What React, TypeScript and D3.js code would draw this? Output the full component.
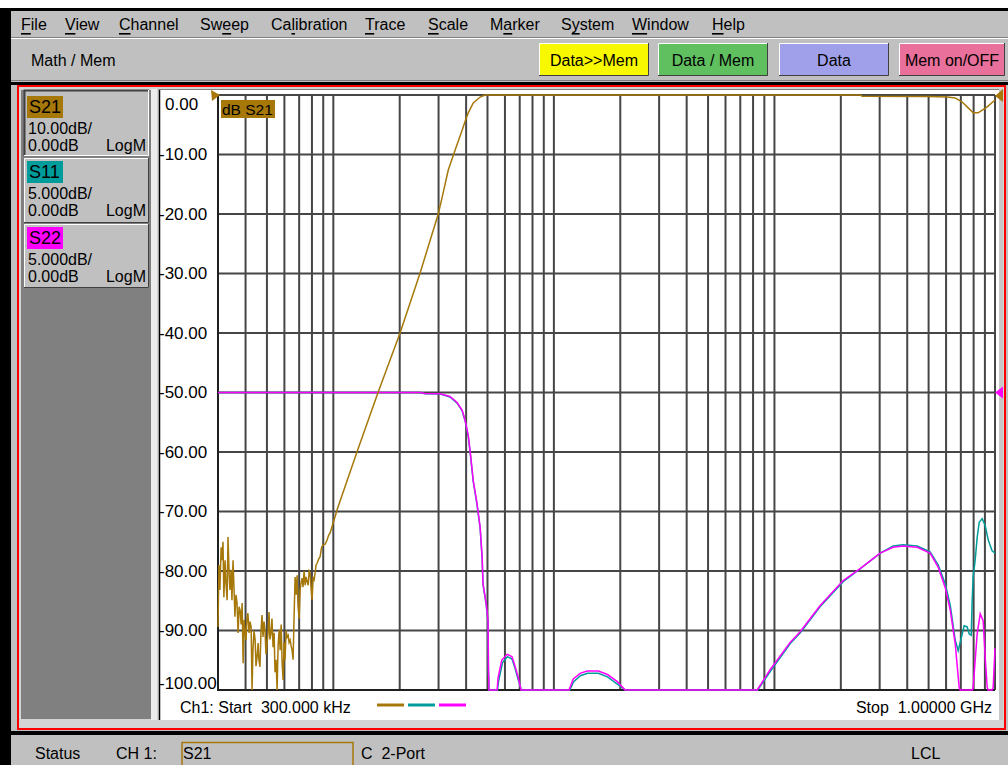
import React from 'react';
import * as d3 from 'd3';

// ---- data (frequency in MHz, values in dB) ----
const s21Freq = [
  0.300, 0.303, 0.306, 0.310, 0.313, 0.316, 0.319, 0.323, 0.326, 0.330, 0.333, 0.337, 0.340, 0.344,
  0.347, 0.351, 0.355, 0.358, 0.362, 0.366, 0.370, 0.374, 0.378, 0.382, 0.386, 0.390, 0.394, 0.398,
  0.402, 0.406, 0.410, 0.415, 0.419, 0.424, 0.428, 0.432, 0.437, 0.442, 0.446, 0.451, 0.456, 0.460,
  0.465, 0.470, 0.475, 0.480, 0.485, 0.490, 0.495, 0.501, 0.506, 0.511, 0.516, 0.522, 0.527, 0.533,
  0.539, 0.544, 0.550, 0.556, 0.562, 0.568, 0.574, 0.580, 0.586, 0.592, 0.598, 0.604, 0.611, 0.617,
  0.624, 0.630, 0.637, 0.643, 0.650, 0.657, 0.664, 0.671, 0.678, 0.685, 0.692, 0.700, 0.707, 0.714,
  0.722, 0.729, 0.737, 0.745, 0.753, 0.761, 0.769, 0.777, 0.785, 0.793, 0.801, 0.810, 0.818, 0.827,
  0.835, 0.844, 0.858, 0.871, 0.885, 0.899, 0.918, 0.937, 0.952, 0.967, 0.982, 0.998, 1.020, 1.040,
  1.28, 1.595, 2.007, 2.47, 2.99, 3.11, 3.32, 3.57, 3.84, 4.00, 4.09, 4.31, 4.63, 4.87,
  245, 250, 500, 607, 660, 710, 748, 796, 839, 922, 1000,
];
const s21Db = [
  -89.4, -79.0, -83.2, -76.0, -78.2, -75.1, -84.4, -78.2, -82.0, -84.9, -74.3, -80.5, -83.2, -79.8,
  -84.9, -78.2, -83.5, -87.7, -84.0, -85.4, -90.4, -86.0, -86.6, -89.0, -85.4, -95.5, -88.2, -90.5,
  -91.6, -88.0, -87.1, -90.4, -88.5, -89.4, -100, -93.3, -90.0, -91.6, -96.0, -94.5, -92.1, -95.0,
  -96.1, -90.0, -87.4, -91.1, -88.5, -89.9, -94.0, -92.1, -90.4, -86.9, -91.5, -90.4, -88.0, -92.8,
  -90.4, -97.0, -94.9, -100, -92.5, -89.9, -93.3, -89.0, -95.5, -98.3, -92.0, -94.9, -90.0, -91.1,
  -90.8, -92.0, -91.6, -92.5, -93.3, -94.9, -87.5, -81.0, -84.0, -80.7, -86.0, -88.0, -83.2, -82.0,
  -81.2, -82.7, -80.0, -82.4, -81.0, -81.8, -82.4, -80.0, -80.3, -83.0, -84.9, -81.2, -81.5, -80.3,
  -79.0, -78.7, -78.0, -77.6, -76.0, -75.6, -75.5, -74.8, -74.0, -73.6, -72.8, -71.9, -70.8, -69.7,
  -60, -50, -40, -30, -20, -17.3, -12.6, -9.2, -5.9, -3.9, -3.0, -1.34, -0.34, 0,
  0, -0.2, -0.25, -0.34, -0.5, -1.18, -2.0, -3.0, -3.0, -2.0, -0.84,
];

const s11Freq = [
  0.3, 2.47, 2.6, 3.05, 3.38, 3.64, 3.84, 3.96, 4.09, 4.17, 4.31, 4.48, 4.63, 4.73, 4.77, 4.93, 5.03,
  5.05, 5.08, 5.55, 5.62, 5.85, 6.16, 6.46, 6.67, 6.88, 7.12, 11.8, 12.3, 13.2, 14.2, 15.9, 17.5, 19.4,
  21.1, 84, 96, 118, 131, 161, 205, 245, 302, 345, 383, 444, 508, 553, 595, 627, 660, 681, 710, 725,
  748, 764, 780, 788, 796, 813, 830, 848, 875, 903, 932, 970, 1000,
];
const s11Db = [
  0, 0, -0.1, -0.12, -0.38, -0.9, -1.55, -2.4, -3.7, -5.0, -7.5, -9.4, -11.4, -14.0, -16.1, -17.8, -19.3,
  -23.3, -28, -28, -24.2, -22.7, -22.2, -22.4, -23.2, -24.1, -26, -26, -24.3, -23.8, -23.6, -23.6, -23.9, -24.5,
  -26, -26, -23.4, -21.1, -20.2, -18.0, -15.9, -14.8, -13.5, -12.9, -12.8, -12.9, -13.4, -14.5, -16.1, -17.9, -20.8, -21.7, -20.3, -19.6,
  -19.7, -20.3, -20.4, -17.5, -15.5, -14.1, -12.2, -10.9, -10.6, -11.2, -12.4, -13.3, -13.5,
];

const s22Freq = [
  0.3, 2.47, 2.6, 3.05, 3.38, 3.64, 3.84, 3.96, 4.09, 4.17, 4.31, 4.48, 4.63, 4.73, 4.77, 4.93, 5.03,
  5.05, 5.08, 5.53, 5.58, 5.80, 6.14, 6.46, 6.67, 6.88, 7.10, 11.72, 12.22, 13.15, 14.15, 15.9, 17.5, 19.4,
  21.04, 83.5, 95.6, 117.8, 130.8, 161.2, 205, 244.7, 301.6, 345, 383, 444, 508, 553, 595, 627, 660, 688,
  695, 790, 796, 830, 857, 884, 903, 922, 932, 970, 981, 1000,
];
const s22Db = [
  0, 0, -0.08, -0.1, -0.34, -0.84, -1.5, -2.35, -3.6, -4.9, -7.4, -9.3, -11.3, -13.9, -16.05, -17.7, -19.2,
  -23.1, -28, -28, -24.0, -22.5, -22.0, -22.2, -23.0, -23.9, -26, -26, -24.1, -23.6, -23.4, -23.4, -23.7, -24.3,
  -26, -26, -23.3, -21.0, -20.1, -17.9, -15.8, -14.8, -13.5, -13.0, -12.9, -13.0, -13.5, -14.7, -16.4, -18.3, -21.1, -24.8,
  -27, -27, -24.8, -20.3, -18.6, -19.2, -22.3, -24.8, -27, -27, -24.8, -21.5,
];

const yTickValues = [0, -10, -20, -30, -40, -50, -60, -70, -80, -90, -100];
const yTickLabels = ['0.00', '-10.00', '-20.00', '-30.00', '-40.00', '-50.00', '-60.00', '-70.00', '-80.00', '-90.00', '-100.00'];

const traceNames = ['S21', 'S11', 'S22'];
const traceScales = ['10.00dB/', '5.000dB/', '5.000dB/'];
const traceRefs = ['0.00dB', '0.00dB', '0.00dB'];
const traceColors = ['#a6780a', '#009c9c', '#ff00ff'];

const menuItems = ['File', 'View', 'Channel', 'Sweep', 'Calibration', 'Trace', 'Scale', 'Marker', 'System', 'Window', 'Help'];
const menuUnderline = [0, 0, 0, 2, 2, 0, 0, 1, 1, 0, 0];
const toolButtons = ['Data>>Mem', 'Data / Mem', 'Data', 'Mem on/OFF'];
const toolColors = ['#f8f800', '#60c060', '#a0a0ea', '#e8709a'];

// ---- layout ----
const W = 1008;
const H = 765;
const menuX = [21, 65, 119, 200, 271, 365, 428, 490, 561, 632, 712];
const toolX = [539, 658, 779, 899];
const toolW = [110, 110, 110, 106];
const btnTops = [90, 158, 224];
const btnBottoms = [156, 223, 288];
const FONT = '"Liberation Sans", Arial, sans-serif';

const plot = { left: 218, right: 995, top: 95, bottom: 690 };

const x = d3.scaleLog().domain([0.3, 1000]).range([plot.left, plot.right]);
const yDb = d3.scaleLinear().domain([-100, 0]).range([plot.bottom, plot.top]).clamp(true);
const yRl = d3.scaleLinear().domain([-25, 25]).range([plot.bottom, plot.top]).clamp(true);

const zip = (a: number[], b: number[]) => a.map((v, i) => [v, b[i]] as [number, number]);
const lineDb = d3.line<[number, number]>().x(d => x(d[0])).y(d => yDb(d[1]));
const lineRl = d3.line<[number, number]>().x(d => x(d[0])).y(d => yRl(d[1]));

const gridFreqs: number[] = [];
for (let e = -1; e <= 3; e++) {
  for (let m = 1; m < 10; m++) {
    const f = m * Math.pow(10, e);
    if (f > 0.3 + 1e-9 && f <= 1000 + 1e-6) gridFreqs.push(f);
  }
}

const Bevel = ({ x0, y0, w, h, fill, pressed }: { x0: number; y0: number; w: number; h: number; fill: string; pressed?: boolean }) => {
  const tl = pressed ? '#404040' : '#ffffff';
  const br = pressed ? '#ffffff' : '#404040';
  return (
    <g>
      <rect x={x0} y={y0} width={w} height={h} fill={fill} />
      <path d={`M${x0 + 0.5},${y0 + h} V${y0 + 0.5} H${x0 + w}`} stroke={tl} strokeWidth={pressed ? 2 : 1} fill="none" />
      <path d={`M${x0},${y0 + h - 0.5} H${x0 + w - 0.5} V${y0}`} stroke={br} strokeWidth={1} fill="none" />
    </g>
  );
};

export default function App() {
  return (
    <svg width={W} height={H} style={{ position: 'absolute', left: 0, top: 0, fontFamily: FONT }}>
      {/* window chrome */}
      <rect x={0} y={0} width={W} height={H} fill="#c0c0c0" />
      <rect x={0} y={0} width={W} height={8} fill="#ffffff" />
      <rect x={0} y={8} width={W} height={3} fill="#000000" />
      <rect x={0} y={8} width={11} height={H - 8} fill="#000000" />

      {/* menu bar */}
      {menuItems.map((m, i) => (
        <text key={m} x={menuX[i]} y={24} fontSize={16} dominantBaseline="central" fill="#000">
          {m.slice(0, menuUnderline[i])}
          <tspan style={{ textDecoration: 'underline' }}>{m[menuUnderline[i]]}</tspan>
          {m.slice(menuUnderline[i] + 1)}
        </text>
      ))}
      <rect x={11} y={37} width={W - 11} height={1} fill="#808080" />
      <rect x={11} y={38} width={W - 11} height={1} fill="#ffffff" />

      {/* toolbar */}
      <text x={31} y={60} fontSize={16} dominantBaseline="central">Math / Mem</text>
      {toolButtons.map((b, i) => (
        <g key={b}>
          <Bevel x0={toolX[i]} y0={43} w={toolW[i]} h={33} fill={toolColors[i]} />
          <text x={toolX[i] + toolW[i] / 2} y={60} fontSize={16} textAnchor="middle" dominantBaseline="central">{b}</text>
        </g>
      ))}
      <rect x={11} y={80} width={W - 11} height={1} fill="#808080" />
      <rect x={11} y={82} width={W - 11} height={3} fill="#000000" />

      {/* channel window frame */}
      <rect x={18} y={86} width={987} height={643} fill="#d4d4d4" stroke="#ff0000" strokeWidth={2} />
      <rect x={11} y={731} width={W - 11} height={4} fill="#000000" />

      {/* left trace panel */}
      <rect x={21} y={90} width={130} height={629} fill="#808080" />
      <rect x={151} y={89} width={6} height={631} fill="#ececec" />
      {traceNames.map((n, i) => {
        const top = btnTops[i];
        const pressed = i === 0;
        const off = pressed ? 3 : 0;
        return (
          <g key={n}>
            <Bevel x0={24} y0={top} w={125} h={btnBottoms[i] - top} fill="#c0c0c0" pressed={pressed} />
            <rect x={27} y={top + 3 + off} width={36} height={22} fill={traceColors[i]} />
            <text x={29} y={top + 14 + off} fontSize={18} dominantBaseline="central">{n}</text>
            <text x={28} y={top + 35 + off} fontSize={16} dominantBaseline="central">{traceScales[i]}</text>
            <text x={28} y={top + 52 + off} fontSize={16} dominantBaseline="central">{traceRefs[i]}</text>
            <text x={146} y={top + 52 + off} fontSize={16} textAnchor="end" dominantBaseline="central">LogM</text>
          </g>
        );
      })}

      {/* plot panel */}
      <rect x={159} y={89} width={840} height={631} fill="#ffffff" />
      <line x1={159.5} y1={89} x2={159.5} y2={720} stroke="#000" strokeWidth={1.5} />
      <line x1={159} y1={89.5} x2={999} y2={89.5} stroke="#808080" strokeWidth={1} />
      <rect x={999} y={89} width={4} height={631} fill="#c8c8c8" />

      {/* grid */}
      {gridFreqs.map(f => (
        <line key={'v' + f} x1={x(f)} x2={x(f)} y1={plot.top} y2={plot.bottom} stroke="#464646" strokeWidth={2} />
      ))}
      {yTickValues.map(v => (
        <line key={'h' + v} x1={plot.left} x2={plot.right} y1={yDb(v)} y2={yDb(v)} stroke="#464646" strokeWidth={2} />
      ))}
      <line x1={plot.left} x2={plot.left} y1={plot.top} y2={plot.bottom + 1} stroke="#202020" strokeWidth={2} />
      <line x1={plot.left} x2={plot.right} y1={plot.bottom} y2={plot.bottom} stroke="#202020" strokeWidth={2} />

      {/* y labels */}
      {yTickValues.map((v, i) => {
        let yy = yDb(v);
        if (v === 0) yy = 104;
        if (v === -100) yy = 683;
        return (
          <text key={'l' + v} x={v === 0 ? 165 : 159} y={yy} fontSize={17} dominantBaseline="central" fill="#000">
            {yTickLabels[i]}
          </text>
        );
      })}

      {/* traces */}
      <path d={lineRl(zip(s11Freq, s11Db)) || ''} fill="none" stroke={traceColors[1]} strokeWidth={1.5} />
      <path d={lineRl(zip(s22Freq, s22Db)) || ''} fill="none" stroke={traceColors[2]} strokeWidth={1.5} />
      <path d={lineDb(zip(s21Freq, s21Db)) || ''} fill="none" stroke={traceColors[0]} strokeWidth={1.5} />

      {/* reference markers */}
      <polygon points="211,90 220,95 212,101" fill={traceColors[0]} />
      <polygon points="995,96 1003,89 1003,102" fill={traceColors[0]} />
      <polygon points={`995,${yRl(0)} 1003,${yRl(0) - 6} 1003,${yRl(0) + 6}`} fill={traceColors[2]} />

      {/* active trace label */}
      <rect x={221} y={100} width={54} height={18} fill={traceColors[0]} />
      <text x={222} y={109} fontSize={15.5} dominantBaseline="central">dB S21</text>

      {/* footer of plot */}
      <text x={180} y={707} fontSize={16} dominantBaseline="central" style={{ whiteSpace: 'pre' }}>Ch1: Start  300.000 kHz</text>
      {traceColors.map((c, i) => (
        <line key={c} x1={377 + i * 31} x2={404 + i * 31} y1={705} y2={705} stroke={c} strokeWidth={3} />
      ))}
      <text x={992} y={707} fontSize={16} textAnchor="end" dominantBaseline="central" style={{ whiteSpace: 'pre' }}>Stop  1.00000 GHz</text>

      {/* status bar */}
      <rect x={11} y={737} width={W - 11} height={H - 737} fill="#c0c0c0" />
      <text x={35} y={753} fontSize={16} dominantBaseline="central">Status</text>
      <text x={116} y={753} fontSize={16} dominantBaseline="central">CH 1:</text>
      <rect x={182} y={742.5} width={171} height={24} fill="none" stroke={traceColors[0]} strokeWidth={1.5} />
      <text x={183} y={753} fontSize={16} dominantBaseline="central">S21</text>
      <text x={361} y={753} fontSize={16} dominantBaseline="central" style={{ whiteSpace: 'pre' }}>C  2-Port</text>
      <text x={911} y={753} fontSize={16} dominantBaseline="central">LCL</text>
    </svg>
  );
}
